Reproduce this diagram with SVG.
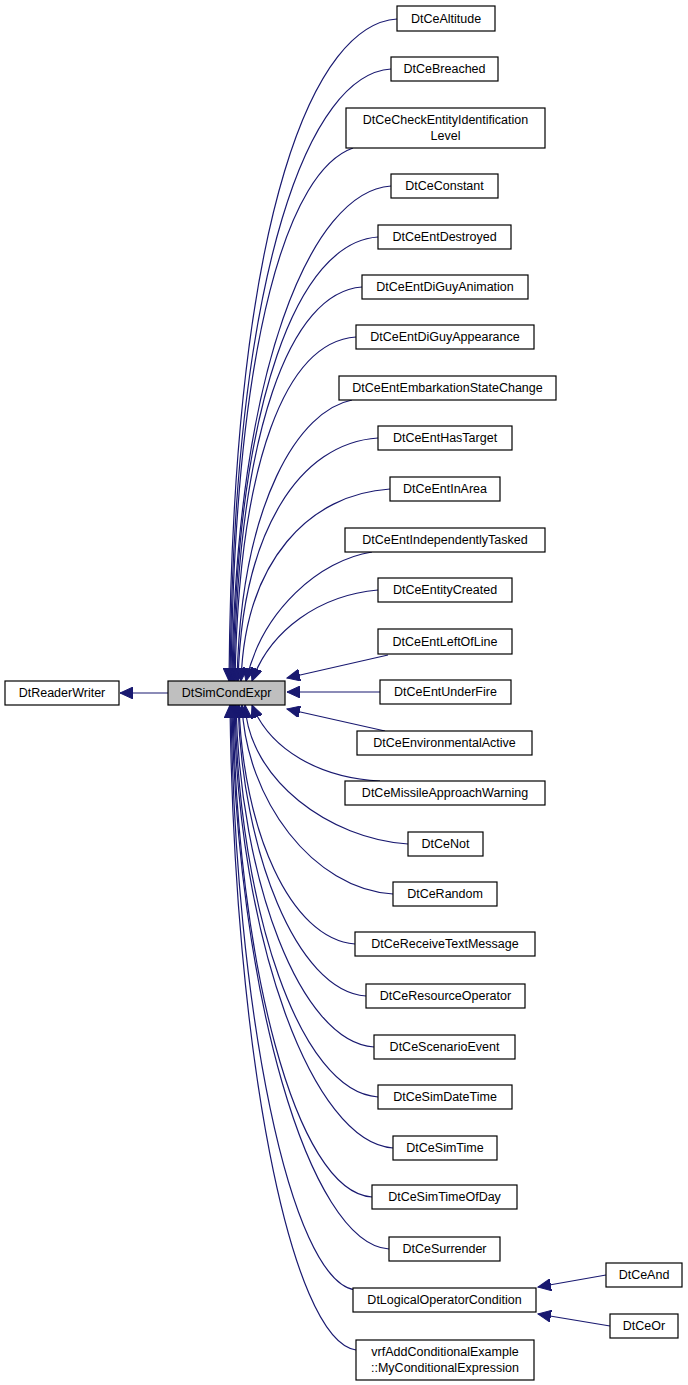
<svg xmlns="http://www.w3.org/2000/svg" width="688" height="1385" viewBox="0 0 688 1385">
<style>
rect{fill:#fff;stroke:#000;stroke-width:1.2}
text{font-family:"Liberation Sans",Arial,sans-serif;font-size:12.5px;text-anchor:middle;fill:#000}
#edges path{fill:none;stroke:#191970;stroke-width:1.2;marker-end:url(#a)}
</style>
<defs><marker id="a" markerUnits="userSpaceOnUse" markerWidth="14" markerHeight="12" refX="13" refY="6" orient="auto"><path d="M0,0 L13,6 L0,12 Z" fill="#191970" stroke="#191970"/></marker></defs>
<rect x="0" y="0" width="688" height="1385" style="fill:#fff;stroke:none"/>
<g id="edges">
<path d="M168,693 L120,693"/>
<path d="M397,19 C317,24 233,200 229,681"/>
<path d="M391,69 C311,74 234,260 230,681"/>
<path d="M353,148 C290,170 235,330 231,681"/>
<path d="M391,186 C311,191 236,370 232,681"/>
<path d="M378,237 C298,242 237,400 233,681"/>
<path d="M362,287 C290,292 238,430 234,681"/>
<path d="M356,337 C286,342 239,460 235,681"/>
<path d="M352,400 C300,410 241,500 237,681"/>
<path d="M378,438 C300,443 242,530 238,681"/>
<path d="M390,489 C310,494 245,560 241,681"/>
<path d="M372,552 C320,560 262,610 246,681"/>
<path d="M378,590 C320,595 270,630 252,681"/>
<path d="M388,655 L287,678"/>
<path d="M380,692 L287,692"/>
<path d="M385,731 L287,709"/>
<path d="M380,781 C320,778 270,750 252,705"/>
<path d="M408,844 C330,839 249,780 245,705"/>
<path d="M393,894 C313,889 246,800 242,705"/>
<path d="M355,944 C290,939 243,830 239,705"/>
<path d="M366,996 C296,991 242,850 238,705"/>
<path d="M374,1047 C300,1042 240,880 236,705"/>
<path d="M378,1097 C300,1092 239,910 235,705"/>
<path d="M393,1148 C313,1143 238,940 234,705"/>
<path d="M372,1197 C295,1192 237,960 233,705"/>
<path d="M389,1249 C309,1244 236,990 232,705"/>
<path d="M355,1290 C290,1280 235,1010 231,705"/>
<path d="M356,1350 C290,1340 234,1050 230,705"/>
<path d="M606,1275 L538,1287"/>
<path d="M610,1326 L538,1314"/>
</g>
<g id="DtReaderWriter"><rect x="5" y="681" width="114" height="24"/><text x="62" y="697">DtReaderWriter</text></g>
<g id="DtSimCondExpr"><rect x="168" y="681" width="117" height="24" style="fill:#bfbfbf"/><text x="226.5" y="697">DtSimCondExpr</text></g>
<g id="n1"><rect x="397" y="6" width="98" height="25"/><text x="446" y="23">DtCeAltitude</text></g>
<g id="n2"><rect x="391" y="57" width="107" height="24"/><text x="444.5" y="73">DtCeBreached</text></g>
<g id="n3"><rect x="346" y="108" width="199" height="40"/><text x="445.5" y="124">DtCeCheckEntityIdentification</text><text x="445.5" y="140">Level</text></g>
<g id="n4"><rect x="391" y="174" width="107" height="24"/><text x="444.5" y="190">DtCeConstant</text></g>
<g id="n5"><rect x="378" y="225" width="133" height="24"/><text x="444.5" y="241">DtCeEntDestroyed</text></g>
<g id="n6"><rect x="362" y="275" width="166" height="24"/><text x="445" y="291">DtCeEntDiGuyAnimation</text></g>
<g id="n7"><rect x="356" y="325" width="178" height="24"/><text x="445" y="341">DtCeEntDiGuyAppearance</text></g>
<g id="n8"><rect x="339" y="376" width="217" height="24"/><text x="447.5" y="392">DtCeEntEmbarkationStateChange</text></g>
<g id="n9"><rect x="378" y="426" width="134" height="24"/><text x="445" y="442">DtCeEntHasTarget</text></g>
<g id="n10"><rect x="390" y="477" width="110" height="24"/><text x="445" y="493">DtCeEntInArea</text></g>
<g id="n11"><rect x="345" y="528" width="200" height="24"/><text x="445" y="544">DtCeEntIndependentlyTasked</text></g>
<g id="n12"><rect x="378" y="578" width="134" height="24"/><text x="445" y="594">DtCeEntityCreated</text></g>
<g id="n13"><rect x="378" y="629" width="134" height="25"/><text x="445" y="646">DtCeEntLeftOfLine</text></g>
<g id="n14"><rect x="380" y="680" width="131" height="24"/><text x="445.5" y="696">DtCeEntUnderFire</text></g>
<g id="n15"><rect x="357" y="731" width="175" height="24"/><text x="444.5" y="747">DtCeEnvironmentalActive</text></g>
<g id="n16"><rect x="345" y="781" width="200" height="24"/><text x="445" y="797">DtCeMissileApproachWarning</text></g>
<g id="n17"><rect x="408" y="832" width="75" height="24"/><text x="445.5" y="848">DtCeNot</text></g>
<g id="n18"><rect x="393" y="882" width="104" height="24"/><text x="445" y="898">DtCeRandom</text></g>
<g id="n19"><rect x="355" y="932" width="180" height="24"/><text x="445" y="948">DtCeReceiveTextMessage</text></g>
<g id="n20"><rect x="366" y="984" width="159" height="24"/><text x="445.5" y="1000">DtCeResourceOperator</text></g>
<g id="n21"><rect x="374" y="1035" width="141" height="24"/><text x="444.5" y="1051">DtCeScenarioEvent</text></g>
<g id="n22"><rect x="378" y="1085" width="134" height="24"/><text x="445" y="1101">DtCeSimDateTime</text></g>
<g id="n23"><rect x="393" y="1136" width="104" height="24"/><text x="445" y="1152">DtCeSimTime</text></g>
<g id="n24"><rect x="372" y="1185" width="145" height="24"/><text x="444.5" y="1201">DtCeSimTimeOfDay</text></g>
<g id="n25"><rect x="389" y="1237" width="111" height="24"/><text x="444.5" y="1253">DtCeSurrender</text></g>
<g id="n26"><rect x="353" y="1288" width="183" height="24"/><text x="444.5" y="1304">DtLogicalOperatorCondition</text></g>
<g id="n27"><rect x="356" y="1340" width="178" height="40"/><text x="445" y="1356">vrfAddConditionalExample</text><text x="445" y="1372">::MyConditionalExpression</text></g>
<g id="n28"><rect x="606" y="1263" width="76" height="24"/><text x="644" y="1279">DtCeAnd</text></g>
<g id="n29"><rect x="610" y="1314" width="68" height="24"/><text x="644" y="1330">DtCeOr</text></g>
</svg>
